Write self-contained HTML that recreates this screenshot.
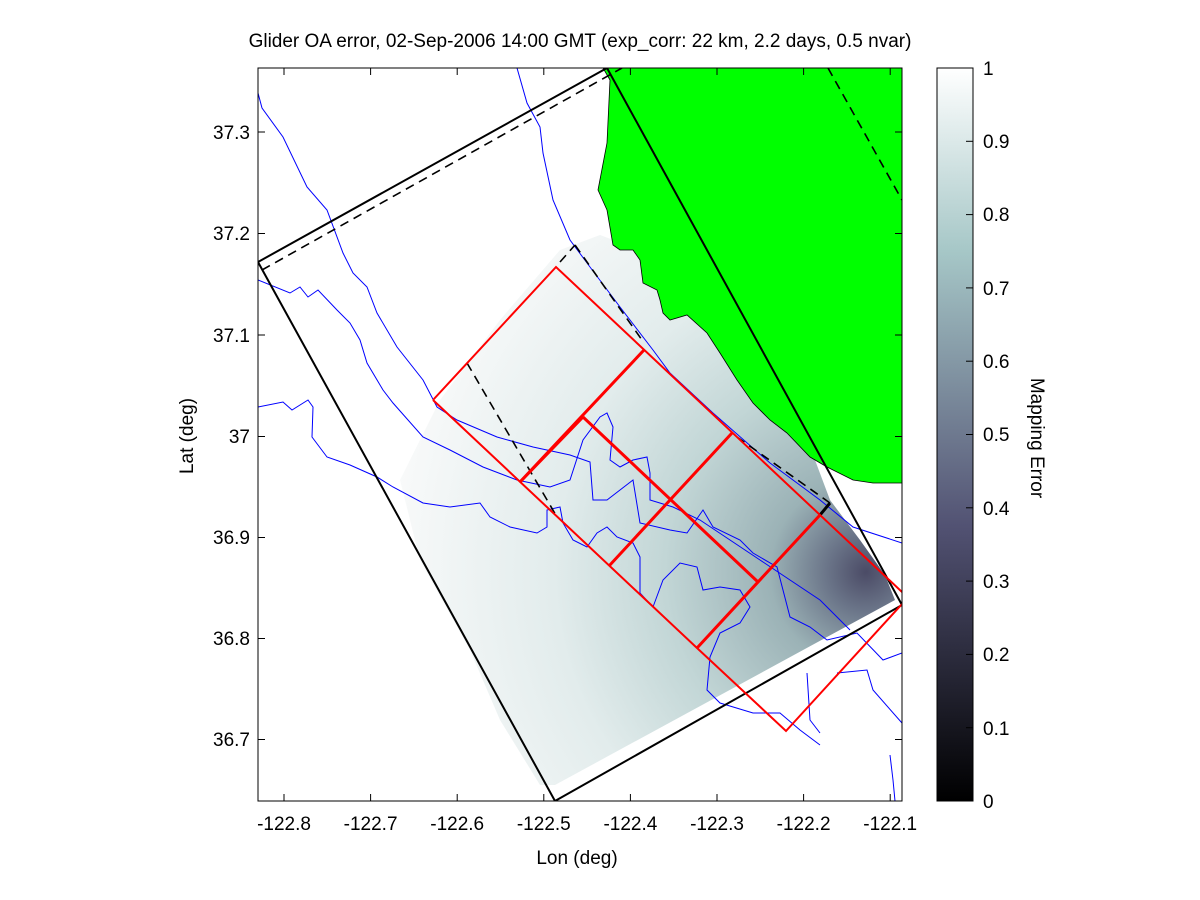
<!DOCTYPE html>
<html><head><meta charset="utf-8"><style>
html,body{margin:0;padding:0;background:#fff;}
svg{display:block;font-family:"Liberation Sans",sans-serif;}
</style></head><body>
<svg width="1200" height="900" viewBox="0 0 1200 900" xmlns="http://www.w3.org/2000/svg">
<defs>
<radialGradient id="fld" gradientUnits="userSpaceOnUse" cx="866" cy="572" r="480">
<stop offset="0" stop-color="#4b4b66"/>
<stop offset="0.08" stop-color="#6a7488"/>
<stop offset="0.2" stop-color="#9bb2b6"/>
<stop offset="0.42" stop-color="#c2d6d6"/>
<stop offset="0.65" stop-color="#e2ecec"/>
<stop offset="1" stop-color="#f9fafa"/>
</radialGradient>
<linearGradient id="cb" x1="0" y1="1" x2="0" y2="0">
<stop offset="0" stop-color="#000"/>
<stop offset="0.375" stop-color="#525273"/>
<stop offset="0.75" stop-color="#a6c7c7"/>
<stop offset="1" stop-color="#fff"/>
</linearGradient>
<clipPath id="ax"><rect x="258" y="68" width="644" height="733"/></clipPath>
</defs>
<text x="580" y="47" font-size="19" text-anchor="middle">Glider OA error, 02-Sep-2006 14:00 GMT (exp_corr: 22 km, 2.2 days, 0.5 nvar)</text>
<g clip-path="url(#ax)">
<polygon fill="url(#fld)" points="560,250 600,235 640,250 680,290 720,340 770,400 810,445 815,460 830,500 860,540 885,575 895,600 555,785 540,785 500,720 470,650 420,560 400,480 440,400 500,320"/>
<polygon fill="#00ff00" stroke="#000" stroke-width="0.8" points="603,68 902,68 902,483 873,483 853,480 827,467 810,457 787,433 770,420 753,403 737,380 720,353 707,333 687,315 670,320 663,313 660,300 657,290 643,283 640,260 633,250 620,250 613,245 607,210 598,190 607,143 610,80"/>
<g fill="none" stroke="#0000ff" stroke-width="1">
<polyline points="258,93 262,108 283,137 307,187 327,210 343,253 353,273 367,287 377,313 397,347 423,380 437,407 457,420 497,437 533,447 570,455 590,462 593,500 607,500 633,480 640,523 670,530 687,533 703,510 713,527 740,540 753,553 777,567 790,617 810,627 827,640 857,633 883,660 902,653"/>
<polyline points="258,280 290,293 300,287 308,297 318,290 337,310 350,323 360,340 367,363 383,390 393,403 423,437 450,450 483,467 517,480 550,487 570,480 583,440 600,417 607,413 613,427 610,460 620,467 633,460 647,457 650,473 650,500 673,507 700,520 730,540 760,560 790,580 820,600 850,630"/>
<polyline points="258,407 283,402 292,410 308,400 313,407 312,437 327,457 350,465 377,477 393,487 423,503 450,507 480,503 490,517 510,527 537,533 547,527 547,510 560,507 563,523 573,540 587,547 597,533 607,527 617,537 633,543 640,557 640,593 653,607 663,580 680,563 697,567 703,590 720,587 740,590 750,607 740,623 720,633 710,657 707,690 720,703 753,713 780,713 800,730 820,745"/>
<polyline points="517,68 527,103 540,127 543,153 553,200 570,240 590,267 620,307 653,350 670,373 713,413 770,463 820,500 853,527 902,543"/>
<polyline points="807,673 810,720 820,733"/>
<polyline points="837,673 867,670 873,690 902,723"/>
<polyline points="890,755 893,780 895,801"/>
</g>
<g fill="none" stroke="#000" stroke-width="2">
<polyline points="258,262 607,68 902,605 555,801 258,262"/>
<line x1="820" y1="515" x2="830" y2="503" stroke-width="3"/>
</g>
<g fill="none" stroke="#000" stroke-width="1.6" stroke-dasharray="9,6">
<line x1="262" y1="270" x2="622" y2="68"/>
<line x1="828" y1="68" x2="902" y2="200"/>
<line x1="467" y1="363" x2="557" y2="517"/>
<line x1="560" y1="262" x2="575" y2="245"/>
<line x1="575" y1="245" x2="642" y2="340"/>
<line x1="737" y1="437" x2="830" y2="503"/>
</g>
<g fill="none" stroke="#ff0000" stroke-width="2">
<polyline points="433,400 556,267 902,592"/>
<polyline points="433,400 697,648 786,731 902,604"/>
</g>
<g fill="none" stroke="#ff0000" stroke-width="3">
<line x1="520" y1="482" x2="644" y2="350"/>
<line x1="583" y1="417" x2="758" y2="582"/>
<line x1="609" y1="566" x2="732" y2="433"/>
<line x1="697" y1="648" x2="820" y2="515"/>
<line x1="520" y1="482" x2="583" y2="417"/>
</g>
</g>
<rect x="258" y="68" width="644" height="733" fill="none" stroke="#000" stroke-width="1"/>
<g stroke="#000" stroke-width="1">
<line x1="284" y1="801" x2="284" y2="794"/><line x1="284" y1="68" x2="284" y2="75"/>
<line x1="370.6" y1="801" x2="370.6" y2="794"/><line x1="370.6" y1="68" x2="370.6" y2="75"/>
<line x1="457.2" y1="801" x2="457.2" y2="794"/><line x1="457.2" y1="68" x2="457.2" y2="75"/>
<line x1="543.8" y1="801" x2="543.8" y2="794"/><line x1="543.8" y1="68" x2="543.8" y2="75"/>
<line x1="630.4" y1="801" x2="630.4" y2="794"/><line x1="630.4" y1="68" x2="630.4" y2="75"/>
<line x1="717" y1="801" x2="717" y2="794"/><line x1="717" y1="68" x2="717" y2="75"/>
<line x1="803.6" y1="801" x2="803.6" y2="794"/><line x1="803.6" y1="68" x2="803.6" y2="75"/>
<line x1="890.2" y1="801" x2="890.2" y2="794"/><line x1="890.2" y1="68" x2="890.2" y2="75"/>
<line x1="258" y1="132" x2="265" y2="132"/><line x1="902" y1="132" x2="895" y2="132"/>
<line x1="258" y1="233.5" x2="265" y2="233.5"/><line x1="902" y1="233.5" x2="895" y2="233.5"/>
<line x1="258" y1="335" x2="265" y2="335"/><line x1="902" y1="335" x2="895" y2="335"/>
<line x1="258" y1="436.5" x2="265" y2="436.5"/><line x1="902" y1="436.5" x2="895" y2="436.5"/>
<line x1="258" y1="537.5" x2="265" y2="537.5"/><line x1="902" y1="537.5" x2="895" y2="537.5"/>
<line x1="258" y1="638.5" x2="265" y2="638.5"/><line x1="902" y1="638.5" x2="895" y2="638.5"/>
<line x1="258" y1="739.5" x2="265" y2="739.5"/><line x1="902" y1="739.5" x2="895" y2="739.5"/>
</g>
<g font-size="19" text-anchor="middle">
<text x="284" y="830">-122.8</text><text x="370.6" y="830">-122.7</text><text x="457.2" y="830">-122.6</text>
<text x="543.8" y="830">-122.5</text><text x="630.4" y="830">-122.4</text><text x="717" y="830">-122.3</text>
<text x="803.6" y="830">-122.2</text><text x="890.2" y="830">-122.1</text>
<text x="577" y="864">Lon (deg)</text>
</g>
<g font-size="19" text-anchor="end">
<text x="250" y="139">37.3</text><text x="250" y="240">37.2</text><text x="250" y="342">37.1</text>
<text x="250" y="443">37</text><text x="250" y="544">36.9</text><text x="250" y="645">36.8</text><text x="250" y="746">36.7</text>
</g>
<text transform="translate(193 436) rotate(-90)" font-size="19" text-anchor="middle">Lat (deg)</text>
<rect x="937" y="68" width="36" height="733" fill="url(#cb)" stroke="#000" stroke-width="1"/>
<g stroke="#000" stroke-width="1">
<line x1="966" y1="727.7" x2="973" y2="727.7"/><line x1="966" y1="654.4" x2="973" y2="654.4"/>
<line x1="966" y1="581.1" x2="973" y2="581.1"/><line x1="966" y1="507.8" x2="973" y2="507.8"/>
<line x1="966" y1="434.5" x2="973" y2="434.5"/><line x1="966" y1="361.2" x2="973" y2="361.2"/>
<line x1="966" y1="287.9" x2="973" y2="287.9"/><line x1="966" y1="214.6" x2="973" y2="214.6"/>
<line x1="966" y1="141.3" x2="973" y2="141.3"/>
</g>
<g font-size="19">
<text x="983" y="808">0</text><text x="983" y="735">0.1</text><text x="983" y="661">0.2</text>
<text x="983" y="588">0.3</text><text x="983" y="515">0.4</text><text x="983" y="441">0.5</text>
<text x="983" y="368">0.6</text><text x="983" y="295">0.7</text><text x="983" y="221">0.8</text>
<text x="983" y="148">0.9</text><text x="983" y="75">1</text>
</g>
<text transform="translate(1031 438) rotate(90)" font-size="19" text-anchor="middle">Mapping Error</text>
</svg>
</body></html>
